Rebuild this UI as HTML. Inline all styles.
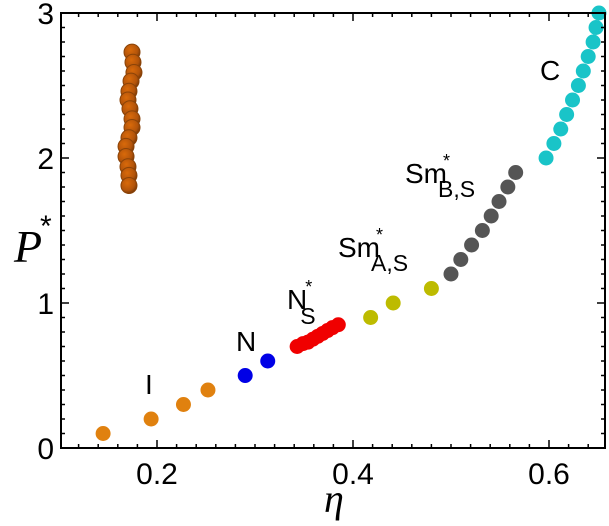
<!DOCTYPE html>
<html><head><meta charset="utf-8"><style>
body{margin:0;background:#fff}
svg text{font-family:"Liberation Sans",sans-serif}
svg text.serif{font-family:"Liberation Serif",serif;font-style:italic}
svg text.lbl{font-size:28px}
svg tspan.st{font-size:18px}
svg tspan.sb{font-size:23px}
</style></head><body>
<svg id="chart" width="609" height="521" viewBox="0 0 609 521">
<defs>
<radialGradient id="brownGrad" cx="40%" cy="35%" r="65%">
<stop offset="0" stop-color="#d96a0a"/><stop offset="0.7" stop-color="#b3540a"/><stop offset="1" stop-color="#7a3a08"/>
</radialGradient>
</defs>
<g id="marks"></g>
<rect x="61" y="13" width="544" height="435" fill="none" stroke="#000" stroke-width="2"/>
<g id="axes"></g>
<text class="serif" x="14" y="262" style="font-size:46px">P</text>
<text x="40" y="236" style="font-size:30px">*</text>
<text class="serif" x="324" y="512" style="font-size:40px">η</text>
<text class="lbl" x="145" y="394">I</text>
<text class="lbl" x="236" y="351">N</text>
<text class="lbl" x="287" y="309">N<tspan class="st" dx="-2" dy="-16">*</tspan><tspan class="sb" dx="-12" dy="31">S</tspan></text>
<text class="lbl" x="338" y="257">Sm<tspan class="st" dx="-4" dy="-16">*</tspan><tspan class="sb" dx="-12" dy="30">A,S</tspan></text>
<text class="lbl" x="405" y="183">Sm<tspan class="st" dx="-4" dy="-16">*</tspan><tspan class="sb" dx="-12" dy="30">B,S</tspan></text>
<text class="lbl" x="540" y="80">C</text>
</svg>
<script>
const xTicks=[0.2,0.4,0.6];
const xTickLabels=["0.2","0.4","0.6"];
const yTicks=[0,1,2,3];
const yTickLabels=["0","1","2","3"];
const isoEta=[0.145,0.194,0.227,0.252];
const isoP=[0.1,0.2,0.3,0.4];
const nemEta=[0.290,0.313];
const nemP=[0.5,0.6];
const nsEta=[0.343,0.349,0.354,0.359,0.364,0.369,0.374,0.379,0.385];
const nsP=[0.70,0.72,0.73,0.75,0.77,0.79,0.81,0.83,0.85];
const smaEta=[0.418,0.441,0.480];
const smaP=[0.9,1.0,1.1];
const smbEta=[0.500,0.510,0.521,0.532,0.541,0.549,0.558,0.566];
const smbP=[1.2,1.3,1.4,1.5,1.6,1.7,1.8,1.9];
const cEta=[0.597,0.605,0.612,0.618,0.624,0.630,0.635,0.640,0.645,0.648,0.651];
const cP=[2.0,2.1,2.2,2.3,2.4,2.5,2.6,2.7,2.8,2.9,3.0];
const brEta=[0.1745,0.1755,0.1765,0.1735,0.1714,0.1704,0.1724,0.1745,0.1745,0.1714,0.1684,0.1684,0.1704,0.1714,0.1714];
const brP=[2.73,2.66,2.59,2.53,2.46,2.40,2.34,2.27,2.21,2.14,2.08,2.01,1.94,1.88,1.81];

const NS="http://www.w3.org/2000/svg";
function sx(v){return 157+(v-0.2)*980;}
function sy(v){return 448-v*145;}
const marks=document.getElementById('marks');
const axes=document.getElementById('axes');
function series(xs,ys,fill,r,name,stroke){
  for(let i=0;i<xs.length;i++){
    const c=document.createElementNS(NS,'circle');
    c.setAttribute('cx',sx(xs[i]));c.setAttribute('cy',sy(ys[i]));c.setAttribute('r',r);
    c.setAttribute('fill',fill);
    if(stroke){c.setAttribute('stroke',stroke);c.setAttribute('stroke-width','1');}
    
    
    marks.appendChild(c);
  }
}
series(brEta,brP,'url(#brownGrad)',8,'point-crystal-branch','#8a4308');
series(isoEta,isoP,'#e0810f',7.5,'point-isotropic');
series(nemEta,nemP,'#0000e6',7.5,'point-nematic');
series(nsEta,nsP,'#f00000',7.5,'point-smectic-nematic');
series(smaEta,smaP,'#bdbb00',7.5,'point-smectic-a');
series(smbEta,smbP,'#555555',7.5,'point-smectic-b');
series(cEta,cP,'#19c4c8',7.5,'point-crystal');

function line(x1,y1,x2,y2,name){
  const l=document.createElementNS(NS,'line');
  l.setAttribute('x1',x1);l.setAttribute('y1',y1);l.setAttribute('x2',x2);l.setAttribute('y2',y2);
  l.setAttribute('stroke','#000');l.setAttribute('stroke-width','1.5');
  
  
  axes.appendChild(l);
}
function text(x,y,s,anchor,name){
  const t=document.createElementNS(NS,'text');
  t.setAttribute('x',x);t.setAttribute('y',y);t.setAttribute('text-anchor',anchor);
  t.setAttribute('style','font-size:30px');t.textContent=s;
  
  
  axes.appendChild(t);
}
for(let k=0;k<=28;k++){
  const v=0.1+k*0.02; const px=sx(v);
  if(px<62||px>604) continue;
  const major=Math.abs(((v*10)%2))<1e-6||Math.abs((v*10)%2-2)<1e-6;
  line(px,448,px,448-(major?8:4),'x-tick');
  line(px,13,px,13+(major?8:4),'x-tick-top');
}
for(let k=0;k<=30;k++){
  const v=k*0.1; const py=sy(v); const major=k%10===0;
  line(61,py,61+(major?8:4),py,'y-tick');
  line(605,py,605-(major?8:4),py,'y-tick-right');
}
xTicks.forEach((v,i)=>text(sx(v),484,xTickLabels[i],'middle','x-tick-label'));
yTicks.forEach((v,i)=>text(54,sy(v)+11,yTickLabels[i],'end','y-tick-label'));
</script>
</body></html>
